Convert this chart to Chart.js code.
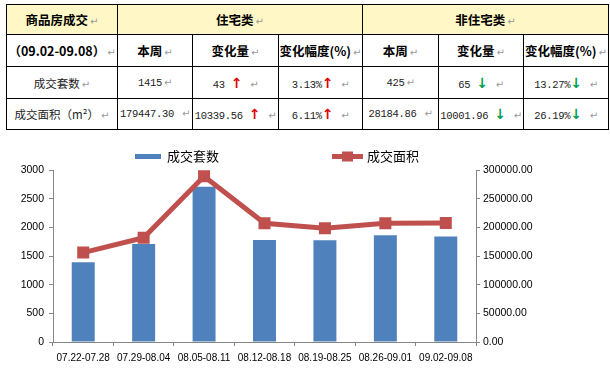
<!DOCTYPE html>
<html>
<head>
<meta charset="utf-8">
<script src="https://cdn.jsdelivr.net/npm/chart.js@4.4.0/dist/chart.umd.min.js"></script>
<style>
    body { margin: 0; background: #fff; width: 610px; height: 368px; overflow: hidden; position: relative; }
    #tbl {
        position: absolute; left: 6px; top: 4px;
        border-collapse: collapse; table-layout: fixed;
        font-family: "Noto Sans CJK SC", sans-serif; color: #222;
    }
    #tbl td {
        border: 1px solid #000; text-align: center; padding: 0;
        white-space: nowrap; overflow: hidden; font-size: 11.5px;
    }
    #tbl tr.h td { font-weight: bold; font-size: 12.5px; color: #000; }
    #tbl tr.y td { background: #fff8c6; }
    #tbl .num { font-family: "Liberation Mono", monospace; font-size: 10.5px; letter-spacing: -0.3px; }
    .rm { color: #999; font-size: 10px; font-weight: normal; margin-left: 2px; font-family: "DejaVu Sans", sans-serif; }
    .up, .dn { font-family: "DejaVu Sans", sans-serif; font-weight: bold; font-size: 14px; }
    .up { color: #e00000; }
    .dn { color: #00a050; }
    #wrap { position: absolute; left: 0; top: 140px; width: 610px; height: 228px; }
</style>
</head>
<body>
<table id="tbl">
    <colgroup>
        <col style="width:111px"><col style="width:75px"><col style="width:86px"><col style="width:84px">
        <col style="width:76px"><col style="width:85px"><col style="width:85px">
    </colgroup>
    <tr class="h y" style="height:30px">
        <td>商品房成交<span class="rm">↵</span></td>
        <td colspan="3">住宅类<span class="rm">↵</span></td>
        <td colspan="3">非住宅类<span class="rm">↵</span></td>
    </tr>
    <tr class="h" style="height:32px">
        <td>（09.02-09.08）<span class="rm">↵</span></td>
        <td>本周<span class="rm">↵</span></td>
        <td>变化量<span class="rm">↵</span></td>
        <td>变化幅度(%)<span class="rm">↵</span></td>
        <td>本周<span class="rm">↵</span></td>
        <td>变化量<span class="rm">↵</span></td>
        <td>变化幅度(%)<span class="rm">↵</span></td>
    </tr>
    <tr style="height:32px">
        <td>成交套数<span class="rm">↵</span></td>
        <td class="num">1415<span class="rm">↵</span></td>
        <td class="num">43 <span class="up">↑</span> <span class="rm">↵</span></td>
        <td class="num">3.13%<span class="up">↑</span> <span class="rm">↵</span></td>
        <td class="num">425<span class="rm">↵</span></td>
        <td class="num">65 <span class="dn">↓</span> <span class="rm">↵</span></td>
        <td class="num">13.27%<span class="dn">↓</span> <span class="rm">↵</span></td>
    </tr>
    <tr style="height:31px">
        <td>成交面积（m²）<span class="rm">↵</span></td>
        <td class="num">179447.30 <span class="rm">↵</span></td>
        <td class="num">10339.56 <span class="up">↑</span> <span class="rm">↵</span></td>
        <td class="num">6.11%<span class="up">↑</span> <span class="rm">↵</span></td>
        <td class="num">28184.86 <span class="rm">↵</span></td>
        <td class="num">10001.96 <span class="dn">↓</span> <span class="rm">↵</span></td>
        <td class="num">26.19%<span class="dn">↓</span> <span class="rm">↵</span></td>
    </tr>
</table>

<div id="wrap"><canvas id="chart" width="610" height="228"></canvas></div>

<script>
// Weekly data
const weeks = ['07.22-07.28', '07.29-08.04', '08.05-08.11', '08.12-08.18', '08.19-08.25', '08.26-09.01', '09.02-09.08'];
const unitCounts = [1390, 1710, 2710, 1780, 1775, 1862, 1840];
const areaValues = [156000, 182000, 289000, 207000, 198500, 207295, 207632];

const barColor = '#4f81bd';
const lineColor = '#c0504d';
const axisColor = '#868686';

// Legend drawn by hand to match the spread-out Excel layout
const legendPlugin = {
    id: 'excelLegend',
    afterDraw(chart) {
        const ctx = chart.ctx;
        const y = 16.5;
        ctx.save();
        ctx.fillStyle = barColor;
        ctx.fillRect(135, y - 2.5, 26, 5);
        ctx.font = '13px "Noto Sans CJK SC", sans-serif';
        ctx.fillStyle = '#000';
        ctx.textBaseline = 'middle';
        ctx.fillText('成交套数', 167, y);

        ctx.strokeStyle = lineColor;
        ctx.lineWidth = 5;
        ctx.beginPath();
        ctx.moveTo(332, y);
        ctx.lineTo(363, y);
        ctx.stroke();
        ctx.fillStyle = lineColor;
        ctx.fillRect(342, y - 5, 11, 10);
        ctx.fillStyle = '#000';
        ctx.fillText('成交面积', 367, y);
        ctx.restore();
    }
};

const ctx = document.getElementById('chart').getContext('2d');
new Chart(ctx, {
    type: 'bar',
    data: {
        labels: weeks,
        datasets: [
            {
                type: 'line',
                label: '成交面积',
                data: areaValues,
                yAxisID: 'y1',
                borderColor: lineColor,
                backgroundColor: lineColor,
                borderWidth: 5,
                pointStyle: 'rect',
                pointRadius: 8.5,
                pointBorderWidth: 0,
                tension: 0,
                order: 0
            },
            {
                label: '成交套数',
                data: unitCounts,
                yAxisID: 'y',
                backgroundColor: barColor,
                categoryPercentage: 1,
                barPercentage: 0.38,
                order: 1
            }
        ]
    },
    options: {
        responsive: false,
        animation: false,
        layout: { padding: { top: 30, left: 0, right: 0, bottom: 0 } },
        plugins: {
            legend: { display: false },
            tooltip: { enabled: false }
        },
        scales: {
            x: {
                offset: true,
                grid: { offset: true, drawOnChartArea: false, tickLength: 4, color: axisColor },
                border: { color: axisColor },
                ticks: {
                    autoSkip: false, maxRotation: 0, minRotation: 0, padding: 6,
                    color: '#000', font: { family: 'Liberation Sans', size: 10 }
                },
                afterFit(scale) { scale.height = 26; }
            },
            y: {
                position: 'left',
                min: 0, max: 3000,
                ticks: {
                    stepSize: 500, padding: 5,
                    color: '#000', font: { family: 'Liberation Sans', size: 10.5 },
                    callback: v => String(v)
                },
                grid: { drawOnChartArea: false, tickLength: 4, color: axisColor },
                border: { color: axisColor },
                afterFit(scale) { scale.width = 53; }
            },
            y1: {
                position: 'right',
                min: 0, max: 300000,
                ticks: {
                    stepSize: 50000, padding: 3,
                    color: '#000', font: { family: 'Liberation Sans', size: 10.5 },
                    callback: v => v.toFixed(2)
                },
                grid: { drawOnChartArea: false, tickLength: 4, color: axisColor },
                border: { color: axisColor },
                afterFit(scale) { scale.width = 134; }
            }
        }
    },
    plugins: [legendPlugin]
});
</script>
</body>
</html>
